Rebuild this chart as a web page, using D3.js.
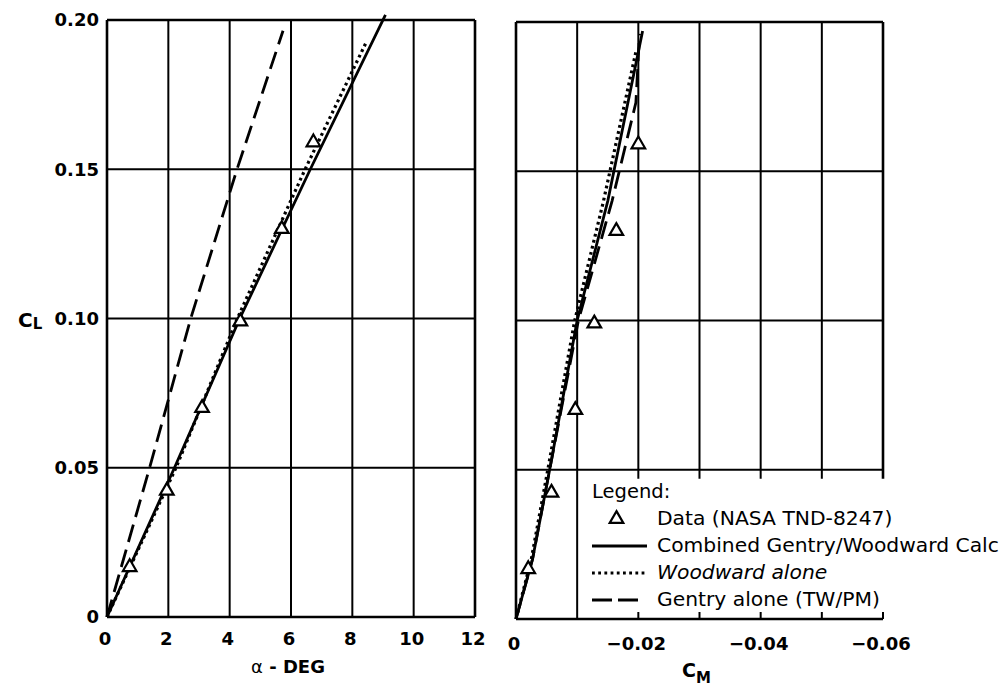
<!DOCTYPE html>
<html>
<head>
<meta charset="utf-8">
<script src="https://cdn.jsdelivr.net/npm/d3@7"></script>
<style>
  html, body { margin: 0; padding: 0; background: #fff; }
  svg { display: block; }
  text { font-family: "DejaVu Sans", "Liberation Sans", sans-serif; fill: #000; }
</style>
</head>
<body>
<svg id="chart" width="1004" height="686"></svg>
<script>
// ---- Axis ticks ----
const alphaTicks = [0, 2, 4, 6, 8, 10, 12];
const clTicks = [0, 0.05, 0.10, 0.15, 0.20];
const clTickLabels = ["0", "0.05", "0.10", "0.15", "0.20"];
const cmTicks = [0, -0.01, -0.02, -0.03, -0.04, -0.05, -0.06];
const cmLabelTicks = [0, -0.02, -0.04, -0.06];
const cmTickLabels = ["0", "\u22120.02", "\u22120.04", "\u22120.06"];

// ---- Test data (NASA TND-8247) ----
const dataAlpha = [0.74, 1.95, 3.1, 4.35, 5.7, 6.73];
const dataCL    = [0.0167, 0.0423, 0.070, 0.099, 0.130, 0.159];
const dataCM    = [-0.0020, -0.0058, -0.0097, -0.0128, -0.0164, -0.0200];

// ---- Lift curve, CL vs alpha ----
const combinedAlpha = [0, 2.2, 4.33, 6.63, 9.08];
const combinedCL    = [0, 0.05, 0.10, 0.15, 0.2017];
const woodwardAlpha = [0, 2.25, 4.25, 6.46, 8.46];
const woodwardCL    = [0, 0.05, 0.10, 0.15, 0.1927];
const gentryAlpha   = [0, 1.39, 2.73, 4.24, 5.74];
const gentryCL      = [0, 0.05, 0.10, 0.15, 0.1964];

// ---- Moment curve, CL vs CM ----
const combinedMomCL = [0, 0.02, 0.05, 0.10, 0.14, 0.197];
const combinedCM    = [0, -0.0027, -0.0055, -0.0100, -0.0150, -0.0207];
const woodwardMomCL = [0, 0.02, 0.05, 0.10, 0.14, 0.19];
const woodwardCM    = [0, -0.0025, -0.0052, -0.0096, -0.0143, -0.0196];
const gentryMomCL   = [0, 0.02, 0.05, 0.10, 0.14, 0.173, 0.196];
const gentryCM      = [0, -0.0027, -0.0055, -0.0102, -0.0157, -0.0196, -0.0202];

const svg = d3.select("#chart");

// Scales for the two panels
const xA = d3.scaleLinear().domain([0, 12]).range([107, 475]);
const yA = d3.scaleLinear().domain([0, 0.20]).range([617, 20]);
const xM = d3.scaleLinear().domain([0, -0.06]).range([516, 883]);
const yM = d3.scaleLinear().domain([0, 0.20]).range([619, 22]);

const gridW = 2, frameW = 2.6;

// ---------- Left panel: grid ----------
const gL = svg.append("g");
gL.selectAll("line.vx").data(alphaTicks).join("line")
  .attr("x1", d => xA(d)).attr("x2", d => xA(d))
  .attr("y1", yA(0.20)).attr("y2", yA(0))
  .attr("stroke", "#000")
  .attr("stroke-width", d => (d === 0 || d === 12) ? frameW : gridW);
gL.selectAll("line.hy").data(clTicks).join("line")
  .attr("x1", xA(0)).attr("x2", xA(12))
  .attr("y1", d => yA(d)).attr("y2", d => yA(d))
  .attr("stroke", "#000")
  .attr("stroke-width", d => (d === 0 || d === 0.20) ? frameW : gridW);

// ---------- Right panel: grid (legend area left open) ----------
const legendTop = 0.047;
const gR = svg.append("g");
gR.selectAll("line.vx").data(cmTicks).join("line")
  .attr("x1", d => xM(d)).attr("x2", d => xM(d))
  .attr("y1", yM(0.20))
  .attr("y2", d => (d === 0 || d === -0.01) ? yM(0) : yM(legendTop))
  .attr("stroke", "#000")
  .attr("stroke-width", d => (d === 0 || d === -0.06) ? frameW : gridW);
// short ticks on the bottom axis under the legend
gR.selectAll("line.tk").data(cmTicks.filter(d => d < -0.01)).join("line")
  .attr("x1", d => xM(d)).attr("x2", d => xM(d))
  .attr("y1", yM(0)).attr("y2", yM(0) - 7)
  .attr("stroke", "#000").attr("stroke-width", gridW);
gR.selectAll("line.hy").data(clTicks).join("line")
  .attr("x1", xM(0)).attr("x2", xM(-0.06))
  .attr("y1", d => yM(d)).attr("y2", d => yM(d))
  .attr("stroke", "#000")
  .attr("stroke-width", d => (d === 0 || d === 0.20) ? frameW : gridW);

// ---------- Line styles ----------
const styles = {
  combined: { dash: null, width: 2.8 },
  woodward: { dash: "2.8,3.4", width: 3.2 },
  gentry:   { dash: "18,8", width: 2.8 }
};

function drawCurve(g, xs, ys, xScale, yScale, style) {
  const pts = xs.map((x, i) => [x, ys[i]]);
  const line = d3.line().x(d => xScale(d[0])).y(d => yScale(d[1]));
  g.append("path").datum(pts)
    .attr("d", line)
    .attr("fill", "none")
    .attr("stroke", "#000")
    .attr("stroke-width", style.width)
    .attr("stroke-dasharray", style.dash)
    .attr("stroke-linecap", "butt");
}

drawCurve(gL, gentryAlpha, gentryCL, xA, yA, styles.gentry);
drawCurve(gL, woodwardAlpha, woodwardCL, xA, yA, styles.woodward);
drawCurve(gL, combinedAlpha, combinedCL, xA, yA, styles.combined);

drawCurve(gR, gentryCM, gentryMomCL, xM, yM, styles.gentry);
drawCurve(gR, woodwardCM, woodwardMomCL, xM, yM, styles.woodward);
drawCurve(gR, combinedCM, combinedMomCL, xM, yM, styles.combined);

// ---------- Data triangles ----------
const tri = d3.symbol().type(d3.symbolTriangle).size(80);
function drawTriangles(g, xs, ys, xScale, yScale) {
  g.selectAll(null).data(xs.map((x, i) => [x, ys[i]])).join("path")
    .attr("d", tri)
    .attr("transform", d => `translate(${xScale(d[0])},${yScale(d[1])})`)
    .attr("fill", "#fff")
    .attr("stroke", "#000")
    .attr("stroke-width", 2.2);
}
drawTriangles(gL, dataAlpha, dataCL, xA, yA);
drawTriangles(gR, dataCM, dataCL, xM, yM);

// ---------- Tick labels ----------
const tickFont = { size: "18px", weight: "bold" };
svg.append("g").selectAll("text").data(clTicks).join("text")
  .attr("x", 99).attr("y", d => yA(d)).attr("dy", "0.36em")
  .attr("text-anchor", "end")
  .style("font-size", tickFont.size).style("font-weight", tickFont.weight)
  .text((d, i) => clTickLabels[i]);

svg.append("g").selectAll("text").data(alphaTicks).join("text")
  .attr("x", d => xA(d) - 2).attr("y", 645)
  .attr("text-anchor", "middle")
  .style("font-size", tickFont.size).style("font-weight", tickFont.weight)
  .text(d => String(d));

svg.append("g").selectAll("text").data(cmLabelTicks).join("text")
  .attr("x", d => xM(d) - 2).attr("y", 650)
  .attr("text-anchor", "middle")
  .style("font-size", tickFont.size).style("font-weight", tickFont.weight)
  .text((d, i) => cmTickLabels[i]);

// ---------- Axis titles ----------
const cl = svg.append("text").attr("x", 18).attr("y", 327)
  .style("font-size", "20px").style("font-weight", "bold");
cl.append("tspan").text("C");
cl.append("tspan").attr("dy", 2).style("font-size", "15px").text("L");

const at = svg.append("text").attr("x", xA(6) - 3).attr("y", 673)
  .attr("text-anchor", "middle").style("font-size", "18px");
at.append("tspan").style("font-weight", "normal").text("\u03B1");
at.append("tspan").style("font-weight", "bold").text(" - DEG");

const cm = svg.append("text").attr("x", xM(-0.03) - 3).attr("y", 677)
  .attr("text-anchor", "middle").style("font-size", "19px").style("font-weight", "bold");
cm.append("tspan").text("C");
cm.append("tspan").attr("dy", 6).style("font-size", "15px").text("M");

// ---------- Legend ----------
const leg = svg.append("g");
const legX0 = 592, legX1 = 647, legTextX = 657;
leg.append("text").attr("x", legX0).attr("y", 498)
  .style("font-size", "19.5px").text("Legend:");

leg.append("path").attr("d", tri)
  .attr("transform", `translate(${(legX0 + legX1) / 2 - 3},519)`)
  .attr("fill", "#fff").attr("stroke", "#000").attr("stroke-width", 2.2);

const legendRows = [
  { label: "Data (NASA TND-8247)", y: 525, style: null, italic: false },
  { label: "Combined Gentry/Woodward Calc", y: 552, style: styles.combined, italic: false },
  { label: "Woodward alone", y: 579, style: styles.woodward, italic: true },
  { label: "Gentry alone (TW/PM)", y: 606, style: styles.gentry, italic: false }
];
legendRows.forEach(r => {
  if (r.style) {
    leg.append("line")
      .attr("x1", legX0).attr("x2", legX1)
      .attr("y1", r.y - 6).attr("y2", r.y - 6)
      .attr("stroke", "#000")
      .attr("stroke-width", r.style.width)
      .attr("stroke-dasharray", r.style.dash === styles.gentry.dash ? "20,6,20" : r.style.dash);
  }
  leg.append("text").attr("x", legTextX).attr("y", r.y)
    .style("font-size", "20.3px")
    .style("font-style", r.italic ? "italic" : "normal")
    .text(r.label);
});
</script>
</body>
</html>
